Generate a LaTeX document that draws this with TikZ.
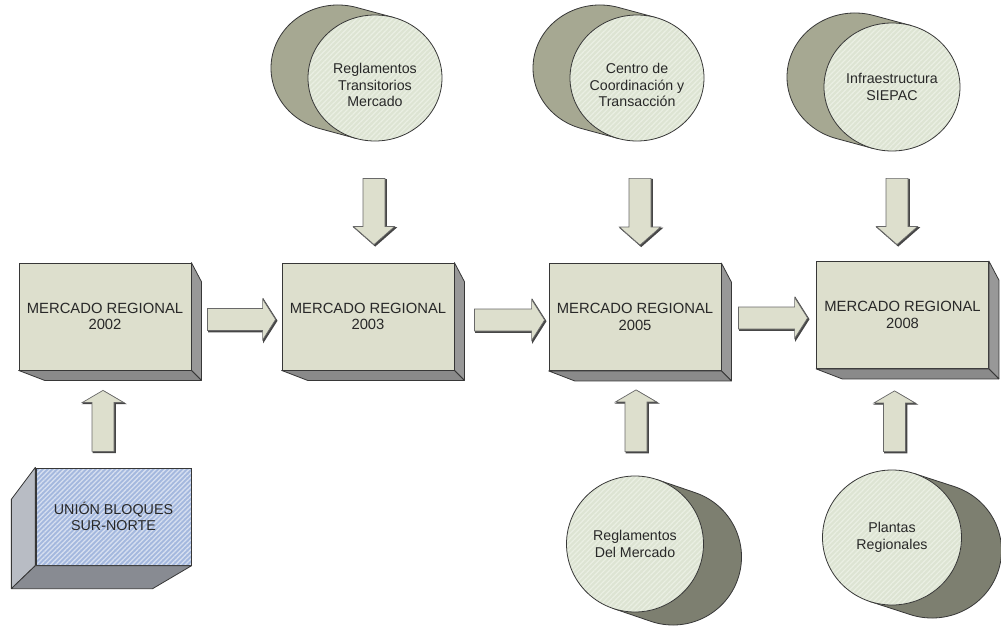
\documentclass[tikz,border=0pt]{standalone}
\usepackage{fontspec}
\setmainfont{Liberation Sans}
\usetikzlibrary{calc,shapes.geometric,patterns.meta}

\definecolor{boxface}{RGB}{221,223,205}
\definecolor{boxside}{RGB}{152,152,152}
\definecolor{boxbottom}{RGB}{138,138,138}
\definecolor{edge}{RGB}{55,55,55}
\definecolor{txt}{RGB}{40,40,40}
\definecolor{cylface}{RGB}{221,228,211}
\definecolor{cylstripe}{RGB}{234,239,227}
\definecolor{cyltop}{RGB}{166,168,146}
\definecolor{cylbottom}{RGB}{125,127,112}
\definecolor{uface}{RGB}{164,184,222}
\definecolor{ustripe}{RGB}{214,223,240}
\definecolor{uside}{RGB}{184,188,196}
\definecolor{ubottom}{RGB}{136,139,146}
\definecolor{arrowedge}{RGB}{105,105,105}
\definecolor{arrowdark}{RGB}{70,70,70}

\tikzset{
  x=1pt, y=1pt,
  mbox/.style={draw=edge, line width=0.8pt, fill=boxface, minimum width=172pt,
    minimum height=107pt, inner sep=0pt, align=center, text=txt,
    font=\fontsize{14.8}{16.7}\selectfont},
  sideface/.style={draw=edge, line width=0.8pt, line join=round},
  cylline/.style={draw=edge, line width=0.8pt},
  cylfront/.style={ellipse, draw=edge, line width=0.8pt, inner sep=0pt,
    preaction={fill=cylface},
    pattern={Lines[angle=45,distance=3.6pt,line width=1.2pt]},
    pattern color=cylstripe},
  cyltext/.style={align=center, text=txt, font=\fontsize{14.2}{16.7}\selectfont},
  ubox/.style={draw=edge, line width=0.8pt, minimum width=155pt, minimum height=97pt,
    inner sep=0pt, align=center, text=txt, font=\fontsize{14.3}{16.7}\selectfont,
    preaction={fill=uface},
    pattern={Lines[angle=45,distance=3.4pt,line width=1.3pt]},
    pattern color=ustripe},
  arrowshade/.style={fill=arrowdark, draw=arrowdark, line width=1.2pt,
    transform canvas={shift={(1.2pt,-1.2pt)}}},
  arrowface/.style={fill=boxface, draw=arrowedge, line width=0.7pt, line join=miter},
}

% right and bottom faces of a box node
\newcommand\boxdepth[1]{%
  \filldraw[sideface, fill=boxside] (#1.north east) -- ++(10,-19)
    -- ($(#1.south east)+(10,-10)$) -- (#1.south east) -- cycle;
  \filldraw[sideface, fill=boxbottom] (#1.south west) -- ++(26,-10)
    -- ($(#1.south east)+(10,-10)$) -- (#1.south east) -- cycle;}

% block arrow: [head length]{from}{to}
\newcommand\blockarrow[3][14]{%
  \coordinate (ba-h) at ($(#3)!#1pt!(#2)$);
  \foreach \st in {arrowshade,arrowface}
    \filldraw[\st] ($(#2)!11pt!90:(#3)$) -- ($(ba-h)!11pt!90:(#3)$)
      -- ($(ba-h)!20.5pt!90:(#3)$) -- (#3) -- ($(ba-h)!20.5pt!-90:(#3)$)
      -- ($(ba-h)!11pt!-90:(#3)$) -- ($(#2)!11pt!-90:(#3)$) -- cycle;}

% cylinder body: {centre}{rx}{ry}{back offset}{start angle}{end angle}{colour}
\newcommand\cylbody[7]{%
  \filldraw[cylline, fill=#7] ($(#1)+(#5:#2 and #3)$)
    -- ($(#1)+(#4)+(#5:#2 and #3)$)
    arc[start angle=#5, end angle=#6, x radius=#2, y radius=#3]
    -- ($(#1)+(#6:#2 and #3)$) -- cycle;}

\begin{document}
\begin{tikzpicture}
\useasboundingbox[fill=white] (0,0) rectangle (1001,625);

% market stages
\node[mbox] (b1) at (105,308.5) {MERCADO REGIONAL\\2002};
\node[mbox] (b2) at (368,308.5) {MERCADO REGIONAL\\2003};
\node[mbox] (b3) at (635,308) {MERCADO REGIONAL\\2005};
\node[mbox] (b4) at (902.5,310) {MERCADO REGIONAL\\2008};
\foreach \b in {b1,b2,b3,b4} \boxdepth{\b};

% block union box, extruded to the lower left
\node[ubox] (u) at (113.5,108.5) {UNIÓN BLOQUES\\SUR-NORTE};
\filldraw[sideface, fill=uside] (u.north west) -- ++(-24,-32)
  -- ($(u.south west)+(-24,-23)$) -- (u.south west) -- cycle;
\filldraw[sideface, fill=ubottom] (u.south west) -- ++(-24,-23)
  -- ($(u.south east)+(-39,-23)$) -- (u.south east) -- cycle;

% upper cylinders
\coordinate (c1c) at (375,547);
\coordinate (c2c) at (637,547);
\coordinate (c3c) at (892,538);
\cylbody{c1c}{67}{63}{-37,10}{73.7}{253.7}{cyltop}
\cylbody{c2c}{67}{63}{-37,10}{73.7}{253.7}{cyltop}
\cylbody{c3c}{68}{64}{-37,10}{73.7}{253.7}{cyltop}
\node[cylfront, minimum width=134pt, minimum height=126pt,
  label={[cyltext, yshift=-7pt]center:{Reglamentos\\Transitorios\\Mercado}}] (c1) at (c1c) {};
\node[cylfront, minimum width=134pt, minimum height=126pt,
  label={[cyltext, yshift=-7pt]center:{Centro de\\Coordinación y\\Transacción}}] (c2) at (c2c) {};
\node[cylfront, minimum width=136pt, minimum height=128pt,
  label={[cyltext]center:{Infraestructura\\SIEPAC}}] (c3) at (c3c) {};

% lower cylinders
\coordinate (c4c) at (635,81);
\coordinate (c5c) at (892,87.5);
\cylbody{c4c}{68.5}{68}{38,-13}{70.9}{-109.1}{cylbottom}
\cylbody{c5c}{69.5}{67.5}{40,-13}{70.9}{-109.1}{cylbottom}
\node[cylfront, minimum width=137pt, minimum height=136pt,
  label={[cyltext]center:{Reglamentos\\Del Mercado}}] (c4) at (c4c) {};
\node[cylfront, minimum width=139pt, minimum height=135pt,
  label={[cyltext]center:{Plantas\\Regionales}}] (c5) at (c5c) {};

% arrow ends
\coordinate (a1s) at ($(b1.east)+(16,-3)$);
\coordinate (a1e) at ($(b2.west)+(-6,-3)$);
\coordinate (a2s) at ($(b2.east)+(20,-3.5)$);
\coordinate (a2e) at ($(b3.west)+(-4,-3)$);
\coordinate (a3s) at ($(b3.east)+(17,-1)$);
\coordinate (a3e) at ($(b4.west)+(-8.5,-3)$);
\coordinate (a4s) at ($(c1.south)+(-1,-37)$);
\coordinate (a4e) at ($(b2.north)+(6,18)$);
\coordinate (a5s) at ($(c2.south)+(3,-37)$);
\coordinate (a5e) at ($(b3.north)+(5,18)$);
\coordinate (a6s) at ($(c3.south)+(5,-27)$);
\coordinate (a6e) at ($(b4.north)+(-5.5,16.5)$);
\coordinate (a7s) at ($(u.north)+(-10.5,16)$);
\coordinate (a7e) at ($(b1.south)+(-2,-20)$);
\coordinate (a8s) at ($(c4.north)+(1,24)$);
\coordinate (a8e) at ($(b3.south)+(1,-19)$);
\coordinate (a9s) at ($(c5.north)+(2.5,18)$);
\coordinate (a9e) at ($(b4.south)+(-8,-22)$);

% connectors
\blockarrow[13]{a1s}{a1e}
\blockarrow[13]{a2s}{a2e}
\blockarrow[13]{a3s}{a3e}
\blockarrow[18]{a4s}{a4e}
\blockarrow[18]{a5s}{a5e}
\blockarrow[18]{a6s}{a6e}
\blockarrow[12]{a7s}{a7e}
\blockarrow[12]{a8s}{a8e}
\blockarrow[12]{a9s}{a9e}
\end{tikzpicture}
\end{document}
